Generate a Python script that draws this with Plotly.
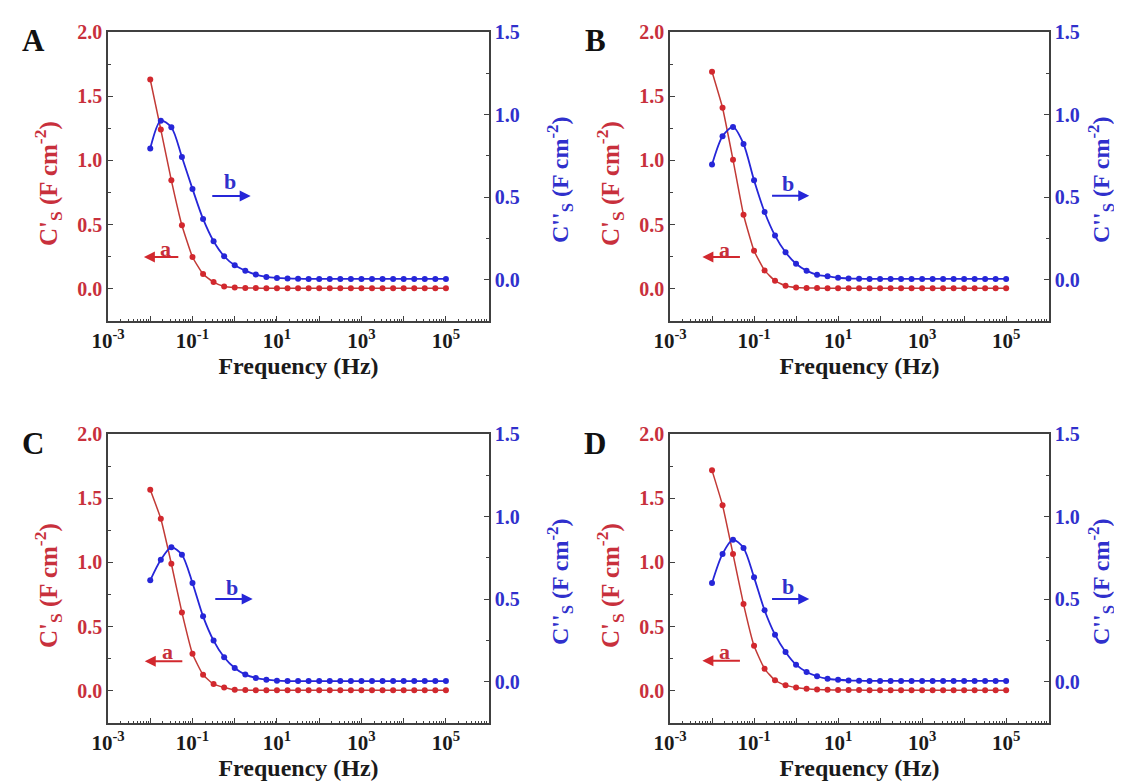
import plotly.graph_objects as go

# ---------------- data ----------------
freq = [0.01, 0.0178, 0.0316, 0.0562, 0.1, 0.178, 0.316, 0.562, 1, 1.78,
        3.16, 5.62, 10, 17.8, 31.6, 56.2, 100, 178, 316, 562,
        1000, 1780, 3160, 5620, 10000, 17800, 31600, 56200, 100000]

A_re = [1.630, 1.240, 0.845, 0.495, 0.248, 0.115, 0.053, 0.019, 0.010, 0.007,
        0.006, 0.005, 0.005, 0.005, 0.005, 0.005, 0.005, 0.005, 0.005, 0.005,
        0.005, 0.005, 0.005, 0.005, 0.005, 0.005, 0.005, 0.005, 0.005]
A_im = [0.794, 0.963, 0.923, 0.743, 0.550, 0.368, 0.233, 0.142, 0.087, 0.055,
        0.031, 0.017, 0.011, 0.008, 0.006, 0.005, 0.005, 0.005, 0.005, 0.005,
        0.005, 0.005, 0.005, 0.005, 0.005, 0.005, 0.005, 0.005, 0.005]

B_re = [1.690, 1.410, 1.005, 0.577, 0.297, 0.144, 0.063, 0.024, 0.010, 0.007,
        0.006, 0.005, 0.005, 0.005, 0.005, 0.005, 0.005, 0.005, 0.005, 0.005,
        0.005, 0.005, 0.005, 0.005, 0.005, 0.005, 0.005, 0.005, 0.005]
B_im = [0.697, 0.869, 0.925, 0.822, 0.602, 0.410, 0.267, 0.166, 0.097, 0.055,
        0.030, 0.021, 0.012, 0.008, 0.006, 0.005, 0.005, 0.005, 0.005, 0.005,
        0.005, 0.005, 0.005, 0.005, 0.005, 0.005, 0.005, 0.005, 0.005]

C_re = [1.566, 1.340, 0.990, 0.611, 0.289, 0.125, 0.053, 0.027, 0.009, 0.006,
        0.005, 0.005, 0.005, 0.005, 0.005, 0.005, 0.005, 0.005, 0.005, 0.005,
        0.005, 0.005, 0.005, 0.005, 0.005, 0.005, 0.005, 0.005, 0.005]
C_im = [0.614, 0.739, 0.814, 0.769, 0.598, 0.396, 0.249, 0.148, 0.083, 0.043,
        0.023, 0.012, 0.006, 0.004, 0.004, 0.004, 0.004, 0.004, 0.004, 0.004,
        0.004, 0.004, 0.004, 0.004, 0.004, 0.004, 0.004, 0.004, 0.004]

D_re = [1.717, 1.445, 1.065, 0.676, 0.351, 0.172, 0.082, 0.043, 0.027, 0.016,
        0.010, 0.008, 0.007, 0.006, 0.006, 0.005, 0.005, 0.005, 0.005, 0.005,
        0.005, 0.005, 0.005, 0.005, 0.005, 0.005, 0.005, 0.005, 0.005]
D_im = [0.598, 0.774, 0.860, 0.810, 0.632, 0.433, 0.285, 0.180, 0.103, 0.059,
        0.033, 0.018, 0.012, 0.008, 0.006, 0.005, 0.005, 0.005, 0.005, 0.005,
        0.005, 0.005, 0.005, 0.005, 0.005, 0.005, 0.005, 0.005, 0.005]

panel_letters = ["A", "B", "C", "D"]
x_tickvals = [1e-3, 1e-2, 1e-1, 1e0, 1e1, 1e2, 1e3, 1e4, 1e5, 1e6]
x_ticktext = ["10<sup>-3</sup>", "", "10<sup>-1</sup>", "", "10<sup>1</sup>", "",
              "10<sup>3</sup>", "", "10<sup>5</sup>", ""]
yl_tickvals = [0.0, 0.5, 1.0, 1.5, 2.0]
yl_ticktext = ["0.0", "0.5", "1.0", "1.5", "2.0"]
yr_tickvals = [0.0, 0.5, 1.0, 1.5]
yr_ticktext = ["0.0", "0.5", "1.0", "1.5"]
x_title = "Frequency (Hz)"
yl_title = "C'<sub>S</sub> (F cm<sup>-2</sup>)"
yr_title = "C''<sub>S</sub> (F cm<sup>-2</sup>)"

# ---------------- style / layout ----------------
W, H = 1122, 781
FONT = "Liberation Serif"
RED = "#d2282e"
RED_LINE = "#c23a36"
RED_TXT = "#c8303c"
BLUE = "#2626d8"
BLUE_TXT = "#3030cc"
FRAME = "#404040"

# panel boxes in pixels: x0, x1, y0(top), y1(bottom)
boxes = [(100, 481, 24, 313), (662, 1041, 24, 313),
         (100, 481, 426, 715), (662, 1041, 426, 715)]
# right-title centre x (pixels)
rt_x = [552, 1093, 552, 1093]
# arrow geometry (log10 x, left-y): a-tail, a-head, a-y, a-text-x, a-text-y ; same for b
arrows = [
    dict(a=(-1.30, -2.15, 0.248, -1.63, 0.312), b=(-0.567, 0.378, 0.723, -0.118, 0.837)),
    dict(a=(-1.30, -2.23, 0.248, -1.71, 0.310), b=(-0.607, 0.314, 0.725, -0.180, 0.818)),
    dict(a=(-1.205, -2.13, 0.230, -1.60, 0.308), b=(-0.496, 0.425, 0.715, -0.070, 0.808)),
    dict(a=(-1.30, -2.23, 0.234, -1.71, 0.310), b=(-0.607, 0.314, 0.715, -0.180, 0.810)),
]
series = [(A_re, A_im), (B_re, B_im), (C_re, C_im), (D_re, D_im)]

minor_x = [m * 10.0 ** e for e in range(-3, 6) for m in range(2, 10)]

fig = go.Figure()
layout = dict(width=W, height=H, margin=dict(l=0, r=0, t=0, b=0, autoexpand=False),
              paper_bgcolor="white", plot_bgcolor="white", showlegend=False,
              font=dict(family=FONT, size=20, weight="bold"))
annotations = []


def tf(color, size=20):
    return dict(family=FONT, size=size, color=color, weight="bold")


for i, ((x0, x1, y0, y1), (re, im), arr, letter, rx) in enumerate(
        zip(boxes, series, arrows, panel_letters, rt_x)):
    xn = i + 1
    yl = 2 * i + 1
    yr = 2 * i + 2
    xid = "x" if xn == 1 else f"x{xn}"
    ylid = "y" if yl == 1 else f"y{yl}"
    yrid = f"y{yr}"
    xkey = "xaxis" if xn == 1 else f"xaxis{xn}"
    ylkey = "yaxis" if yl == 1 else f"yaxis{yl}"
    yrkey = f"yaxis{yr}"

    dom_x = [x0 / W, x1 / W]
    dom_y = [1 - y1 / H, 1 - y0 / H]

    layout[xkey] = dict(
        type="log", domain=dom_x, anchor=ylid, range=[-3, 6.02], automargin=False,
        tickmode="array", tickvals=x_tickvals, ticktext=x_ticktext,
        ticks="inside", ticklen=5, tickwidth=1.2, tickcolor=FRAME,
        showline=True, linecolor=FRAME, linewidth=1.6, mirror=True,
        showgrid=False, zeroline=False,
        minor=dict(tickmode="array", tickvals=minor_x, ticks="inside",
                   ticklen=2.5, tickwidth=1, tickcolor=FRAME, showgrid=False),
        tickfont=tf("#1a1a1a", 21),
        title=dict(text=x_title, font=tf("#1a1a1a", 24), standoff=4),
    )
    layout[ylkey] = dict(
        domain=dom_y, anchor=xid, range=[-0.25, 2.0], automargin=False,
        tickmode="array", tickvals=yl_tickvals, ticktext=yl_ticktext,
        ticks="inside", ticklen=5, tickwidth=1.2, tickcolor=FRAME,
        showline=True, linecolor=FRAME, linewidth=1.6,
        showgrid=False, zeroline=False,
        minor=dict(tick0=0, dtick=0.25, ticks="inside", ticklen=3,
                   tickcolor=FRAME, showgrid=False),
        tickfont=tf(RED_TXT),
    )
    layout[yrkey] = dict(
        domain=dom_y, anchor=xid, overlaying=ylid, side="right", range=[-0.25, 1.5],
        automargin=False,
        tickmode="array", tickvals=yr_tickvals, ticktext=yr_ticktext,
        ticks="inside", ticklen=5, tickwidth=1.2, tickcolor=FRAME,
        showline=True, linecolor=FRAME, linewidth=1.6,
        showgrid=False, zeroline=False,
        minor=dict(tick0=0, dtick=0.25, ticks="inside", ticklen=3,
                   tickcolor=FRAME, showgrid=False),
        tickfont=tf(BLUE_TXT),
    )

    fig.add_trace(go.Scatter(
        x=freq, y=re, xaxis=xid, yaxis=ylid, mode="lines+markers",
        line=dict(color=RED_LINE, width=1.5, shape="spline", smoothing=0.4),
        marker=dict(color=RED, size=6, symbol="circle")))
    fig.add_trace(go.Scatter(
        x=freq, y=im, xaxis=xid, yaxis=yrid, mode="lines+markers",
        line=dict(color=BLUE, width=1.8, shape="spline", smoothing=0.8),
        marker=dict(color=BLUE, size=6, symbol="circle")))

    at, ah, ay, atx, aty = arr["a"]
    bt, bh, by, btx, bty = arr["b"]
    annotations.append(dict(x=ah, y=ay, ax=at, ay=ay, xref=xid, yref=ylid,
                            axref=xid, ayref=ylid, showarrow=True, text="",
                            arrowhead=2, arrowsize=1.1, arrowwidth=2, arrowcolor=RED))
    annotations.append(dict(x=atx, y=aty, xref=xid, yref=ylid, showarrow=False,
                            text="a", font=tf(RED_TXT, 22)))
    annotations.append(dict(x=bh, y=by, ax=bt, ay=by, xref=xid, yref=ylid,
                            axref=xid, ayref=ylid, showarrow=True, text="",
                            arrowhead=2, arrowsize=1.1, arrowwidth=2, arrowcolor=BLUE))
    annotations.append(dict(x=btx, y=bty, xref=xid, yref=ylid, showarrow=False,
                            text="b", font=tf(BLUE_TXT, 22)))
    # panel letter
    annotations.append(dict(x=(x0 - 75) / W, y=1 - (y0 + 9) / H, xref="paper", yref="paper",
                            xanchor="center", yanchor="middle",
                            showarrow=False, text=letter, font=tf("#111111", 31)))
    # y-axis titles (rotated)
    annotations.append(dict(x=(x0 - 60) / W, y=1 - (y0 + 152) / H, xref="paper", yref="paper",
                            xanchor="center", yanchor="middle", textangle=-90,
                            showarrow=False, text=yl_title, font=tf(RED_TXT, 25)))
    annotations.append(dict(x=rx / W, y=1 - (y0 + 148) / H, xref="paper", yref="paper",
                            xanchor="center", yanchor="middle", textangle=-90,
                            showarrow=False, text=yr_title, font=tf(BLUE_TXT, 24)))

layout["annotations"] = annotations
fig.update_layout(**layout)
fig.write_html("out.html")
